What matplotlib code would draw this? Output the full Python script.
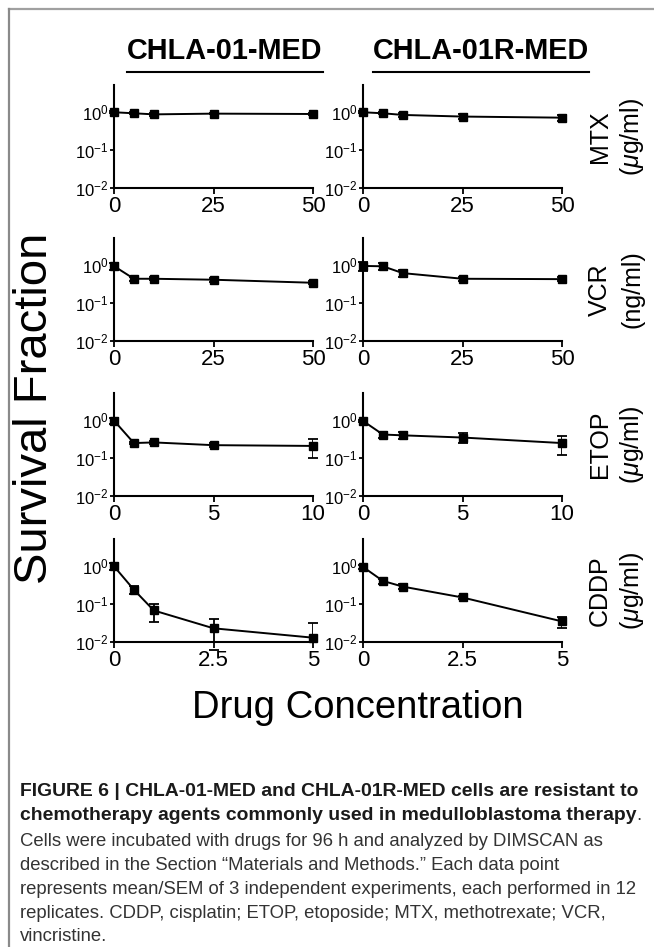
import matplotlib
matplotlib.use("Agg")
import matplotlib.pyplot as plt
from matplotlib.lines import Line2D

plt.rcParams['font.family'] = ['Liberation Sans', 'DejaVu Sans']
plt.rcParams['mathtext.fontset'] = 'custom'
plt.rcParams['mathtext.rm'] = 'Liberation Sans'
plt.rcParams['mathtext.it'] = 'Liberation Sans:italic'

# --- data (survival fraction, mean / SEM) ---
mtx_x = [0, 5, 10, 25, 50]
mtx_01 = [1.0, 0.94, 0.88, 0.92, 0.90]
mtx_01_err = [0.05, 0.05, 0.10, 0.04, 0.04]
mtx_01r = [1.0, 0.94, 0.85, 0.77, 0.72]
mtx_01r_err = [0.05, 0.06, 0.12, 0.12, 0.14]

vcr_x = [0, 5, 10, 25, 50]
vcr_01 = [0.95, 0.44, 0.44, 0.415, 0.345]
vcr_01_err = [0.20, 0.05, 0.04, 0.06, 0.03]
vcr_01r = [0.96, 0.94, 0.62, 0.44, 0.43]
vcr_01r_err = [0.25, 0.20, 0.12, 0.06, 0.05]

etop_x = [0, 1, 2, 5, 10]
etop_01 = [0.98, 0.25, 0.26, 0.22, 0.21]
etop_01_err = [0.20, 0.02, 0.02, 0.025, 0.11]
etop_01r = [0.96, 0.42, 0.40, 0.35, 0.25]
etop_01r_err = [0.05, 0.07, 0.08, 0.10, 0.13]

cddp_x = [0, 0.5, 1, 2.5, 5]
cddp_01 = [1.0, 0.24, 0.068, 0.023, 0.013]
cddp_01_err = [0.20, 0.06, 0.035, 0.017, 0.018]
cddp_01r = [0.96, 0.41, 0.29, 0.15, 0.035]
cddp_01r_err = [0.10, 0.06, 0.04, 0.015, 0.012]

drugs = ['MTX', 'VCR', 'ETOP', 'CDDP']
units = [r'($\mathit{\mu}$g/ml)', '(ng/ml)', r'($\mathit{\mu}$g/ml)', r'($\mathit{\mu}$g/ml)']
xticks = [[0, 25, 50], [0, 25, 50], [0, 5, 10], [0, 2.5, 5]]
xticklabels = [['0', '25', '50'], ['0', '25', '50'], ['0', '5', '10'], ['0', '2.5', '5']]
ytick_vals = [1e-2, 1e-1, 1]
ytick_labels = [r'$10^{-2}$', r'$10^{-1}$', r'$10^{0}$']
cell_lines = ['CHLA-01-MED', 'CHLA-01R-MED']

rows = [
    (mtx_x, mtx_01, mtx_01_err, mtx_01r, mtx_01r_err),
    (vcr_x, vcr_01, vcr_01_err, vcr_01r, vcr_01r_err),
    (etop_x, etop_01, etop_01_err, etop_01r, etop_01r_err),
    (cddp_x, cddp_01, cddp_01_err, cddp_01r, cddp_01r_err),
]

W, H = 654, 947
fig = plt.figure(figsize=(W / 100, H / 100), dpi=100)


def fx(x):
    return x / W


def fy(y):
    return 1 - y / H


# frame around the figure (top and left only)
fig.add_artist(Line2D([fx(9), 1], [fy(9), fy(9)], color='#a0a0a0', lw=1.6))
fig.add_artist(Line2D([fx(9), fx(9)], [fy(9), 0], color='#8a8a8a', lw=1.6))

row_bottoms = [188, 341, 496, 642]
col_lefts = [114, 363]
ax_w, ax_h = 199, 103

for r, (x, y1, e1, y2, e2) in enumerate(rows):
    for c, (yy, ee) in enumerate([(y1, e1), (y2, e2)]):
        ax = fig.add_axes([fx(col_lefts[c]), fy(row_bottoms[r]), fx(ax_w), ax_h / H])
        ax.errorbar(x, yy, yerr=ee, color='black', lw=1.4, marker='s', ms=5.5,
                    capsize=3.5, capthick=1.3, elinewidth=1.3)
        for art in ax.lines:
            art.set_clip_on(False)
        ax.set_yscale('log')
        ax.set_ylim(0.01, 10 ** 0.72)
        ax.set_xlim(xticks[r][0], xticks[r][-1])
        ax.set_yticks(ytick_vals)
        ax.set_yticklabels(ytick_labels)
        ax.yaxis.set_minor_locator(matplotlib.ticker.NullLocator())
        ax.set_xticks(xticks[r])
        ax.set_xticklabels(xticklabels[r], fontsize=16)
        for lab in ax.get_yticklabels():
            lab.set_fontsize(12)
        ax.spines['top'].set_visible(False)
        ax.spines['right'].set_visible(False)
        ax.spines['left'].set_linewidth(1.5)
        ax.spines['bottom'].set_linewidth(1.5)
        ax.tick_params(axis='both', direction='out', length=4, width=1.3, pad=2, colors='black')
        ax.tick_params(axis='y', length=3, pad=1)
        ax.patch.set_visible(False)

    # drug name and unit on the right
    yc = row_bottoms[r] - ax_h / 2
    fig.text(fx(600), fy(yc), drugs[r], rotation=90, ha='center', va='center', fontsize=18)
    fig.text(fx(632), fy(yc), units[r], rotation=90, ha='center', va='center', fontsize=18)

fig.canvas.draw()
renderer = fig.canvas.get_renderer()


def fit_size(text, width, **kw):
    # font size that gives the measured pixel width
    probe = fig.text(0, 0, text, fontsize=12, **kw)
    w = probe.get_window_extent(renderer).width
    probe.remove()
    return 12 * width / w


# column titles, underlined
title_size = fit_size(cell_lines[0], 195, fontweight='bold')
for cx, name in zip([225, 481], cell_lines):
    t = fig.text(fx(cx), fy(51), name, ha='center', va='center', fontsize=title_size,
                 fontweight='bold')
    bb = t.get_window_extent(renderer)
    fig.add_artist(Line2D([bb.x0 / W, bb.x1 / W], [fy(72), fy(72)], color='black', lw=1.5))

fig.text(fx(35), fy(408), 'Survival Fraction', rotation=90, ha='center', va='center', fontsize=34)
fig.text(fx(358), fy(708), 'Drug Concentration', ha='center', va='center', fontsize=27.5)

# caption
bold_lines = ['FIGURE 6 | CHLA-01-MED and CHLA-01R-MED cells are resistant to',
              'chemotherapy agents commonly used in medulloblastoma therapy']
reg_lines = ['Cells were incubated with drugs for 96 h and analyzed by DIMSCAN as',
             'described in the Section \u201cMaterials and Methods.\u201d Each data point',
             'represents mean/SEM of 3 independent experiments, each performed in 12',
             'replicates. CDDP, cisplatin; ETOP, etoposide; MTX, methotrexate; VCR,',
             'vincristine.']

bold_size = fit_size(bold_lines[0], 617, fontweight='bold')
reg_size = fit_size(reg_lines[2], 617)

cap_y = [791, 815, 841, 865, 889, 913, 936]
for i, line in enumerate(bold_lines):
    t = fig.text(fx(20), fy(cap_y[i]), line, fontsize=bold_size, fontweight='bold',
                 va='center', color='#1a1a1a')
bb = t.get_window_extent(renderer)
fig.text(bb.x1 / W, fy(cap_y[1]), '.', fontsize=reg_size, va='center', color='#333333')
for i, line in enumerate(reg_lines):
    fig.text(fx(20), fy(cap_y[i + 2]), line, fontsize=reg_size,
             va='center', color='#333333')

fig.savefig('out.png', dpi=100)
